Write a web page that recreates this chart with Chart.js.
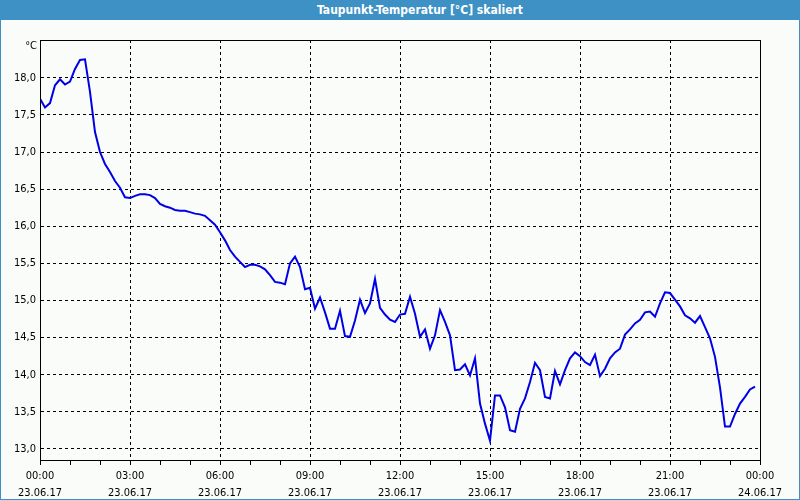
<!DOCTYPE html>
<html>
<head>
<meta charset="utf-8">
<script src="https://cdn.jsdelivr.net/npm/chart.js@4/dist/chart.umd.min.js"></script>
<style>
  html, body { margin: 0; padding: 0; background: #fafcfa; }
  #wrap { position: relative; width: 800px; height: 500px; box-sizing: border-box;
          border-left: 1px solid #3d91c4; border-right: 1px solid #3d91c4; border-bottom: 1px solid #3d91c4; background: #fafcfa; }
  #titlebar { position: absolute; left: -1px; top: 0; width: 800px; height: 20px; background: #3d91c4;
              color: #fff; font: bold 12px "DejaVu Sans Condensed", "Liberation Sans", sans-serif; line-height: 20px; }
  #titlebar span { position: absolute; left: 420px; transform: translateX(-50%); white-space: nowrap; top: 0; }
  #cv { position: absolute; left: -1px; top: 0; }
</style>
</head>
<body>
<div id="wrap">
  <canvas id="cv" width="800" height="500"></canvas>
  <div id="titlebar"><span>Taupunkt-Temperatur [°C] skaliert</span></div>
</div>
<script>
// ---- data ----
const chartTitle = "Taupunkt-Temperatur [°C] skaliert";
const yUnit = "°C";
const intervalMinutes = 10;          // one reading every 10 minutes, from 00:00
const dewPoint = [
  17.72, 17.60, 17.66, 17.90, 17.98, 17.91, 17.95, 18.12, 18.24, 18.25,
  17.81, 17.27, 17.00, 16.84, 16.73, 16.61, 16.52, 16.39, 16.38, 16.41,
  16.43, 16.43, 16.42, 16.38, 16.30, 16.27, 16.25, 16.22, 16.21, 16.21,
  16.19, 16.17, 16.16, 16.14, 16.08, 16.02, 15.92, 15.81, 15.68, 15.59,
  15.52, 15.45, 15.48, 15.48, 15.46, 15.42, 15.34, 15.25, 15.24, 15.22,
  15.50, 15.59, 15.45, 15.15, 15.17, 14.89, 15.04, 14.84, 14.62, 14.62,
  14.86, 14.52, 14.51, 14.73, 15.01, 14.83, 14.96, 15.29, 14.90, 14.81,
  14.74, 14.71, 14.81, 14.82, 15.05, 14.82, 14.51, 14.61, 14.35, 14.53,
  14.87, 14.71, 14.53, 14.06, 14.07, 14.14, 13.99, 14.22, 13.61, 13.34,
  13.11, 13.72, 13.72, 13.56, 13.25, 13.23, 13.54, 13.68, 13.90, 14.16,
  14.06, 13.70, 13.68, 14.05, 13.87, 14.06, 14.22, 14.30, 14.25, 14.17,
  14.13, 14.27, 13.98, 14.08, 14.22, 14.30, 14.35, 14.54, 14.61, 14.69,
  14.74, 14.84, 14.85, 14.78, 14.96, 15.11, 15.10, 15.01, 14.92, 14.80,
  14.76, 14.70, 14.79, 14.64, 14.49, 14.24, 13.83, 13.30, 13.30, 13.47,
  13.61, 13.70, 13.80, 13.84
];
const xTickHours = [0, 3, 6, 9, 12, 15, 18, 21, 24];
const xTickTimes = ["00:00", "03:00", "06:00", "09:00", "12:00", "15:00", "18:00", "21:00", "00:00"];
const xTickDates = ["23.06.17", "23.06.17", "23.06.17", "23.06.17", "23.06.17", "23.06.17", "23.06.17", "23.06.17", "24.06.17"];
const yTicks = [13.0, 13.5, 14.0, 14.5, 15.0, 15.5, 16.0, 16.5, 17.0, 17.5, 18.0];
const yMin = 12.85, yMax = 18.51;

// ---- build ----
const points = dewPoint.map((v, i) => ({ x: i * intervalMinutes / 60, y: v }));
const FONT = '"DejaVu Sans Condensed", "Liberation Sans", sans-serif';

const framePlugin = {
  id: 'frame',
  afterDraw(chart) {
    const { ctx, chartArea: a } = chart;
    ctx.save();
    ctx.strokeStyle = '#000';
    ctx.lineWidth = 1;
    ctx.setLineDash([]);
    ctx.strokeRect(Math.round(a.left) + 0.5, Math.round(a.top) + 0.5,
                   Math.round(a.right - a.left), Math.round(a.bottom - a.top));
    ctx.fillStyle = '#000';
    ctx.font = '11px ' + FONT;
    ctx.textAlign = 'right';
    ctx.textBaseline = 'middle';
    ctx.fillText(yUnit, a.left - 3, a.top + 6);
    ctx.restore();
  }
};

new Chart(document.getElementById('cv'), {
  type: 'line',
  data: {
    datasets: [{
      label: chartTitle,
      data: points,
      borderColor: '#0000e6',
      borderWidth: 2,
      pointRadius: 0,
      tension: 0,
      fill: false
    }]
  },
  options: {
    responsive: false,
    animation: false,
    layout: { padding: { top: 40, right: 40, left: 0, bottom: 0 } },
    plugins: { legend: { display: false }, title: { display: false }, tooltip: { enabled: false } },
    scales: {
      x: {
        type: 'linear',
        min: 0, max: 24,
        afterBuildTicks(scale) {
          const t = [];
          for (let h = 0; h <= 24; h++) t.push({ value: h });
          scale.ticks = t;
        },
        afterFit(scale) { scale.height = 40; },
        ticks: {
          autoSkip: false,
          maxRotation: 0,
          padding: 3,
          color: '#000',
          font: { family: FONT, size: 11, lineHeight: 1.5 },
          callback(value) {
            const k = xTickHours.indexOf(value);
            return k >= 0 ? [xTickTimes[k], xTickDates[k]] : '';
          }
        },
        grid: {
          color: (c) => (c.tick && c.tick.value % 3 === 0 && c.tick.value > 0 && c.tick.value < 24) ? '#000' : 'rgba(0,0,0,0)',
          tickColor: '#000',
          tickLength: 5,
          lineWidth: 1,
          tickBorderDash: []
        },
        border: { display: true, color: '#000', dash: [3, 3] }
      },
      y: {
        type: 'linear',
        min: yMin, max: yMax,
        afterBuildTicks(scale) { scale.ticks = yTicks.map(v => ({ value: v })); },
        afterFit(scale) { scale.width = 40; },
        ticks: {
          padding: 4,
          color: '#000',
          font: { family: FONT, size: 11 },
          callback: (v) => Number(v).toFixed(1).replace('.', ',')
        },
        grid: { color: '#000', drawTicks: false, lineWidth: 1 },
        border: { display: true, color: '#000', dash: [3, 3] }
      }
    }
  },
  plugins: [framePlugin]
});
</script>
</body>
</html>
